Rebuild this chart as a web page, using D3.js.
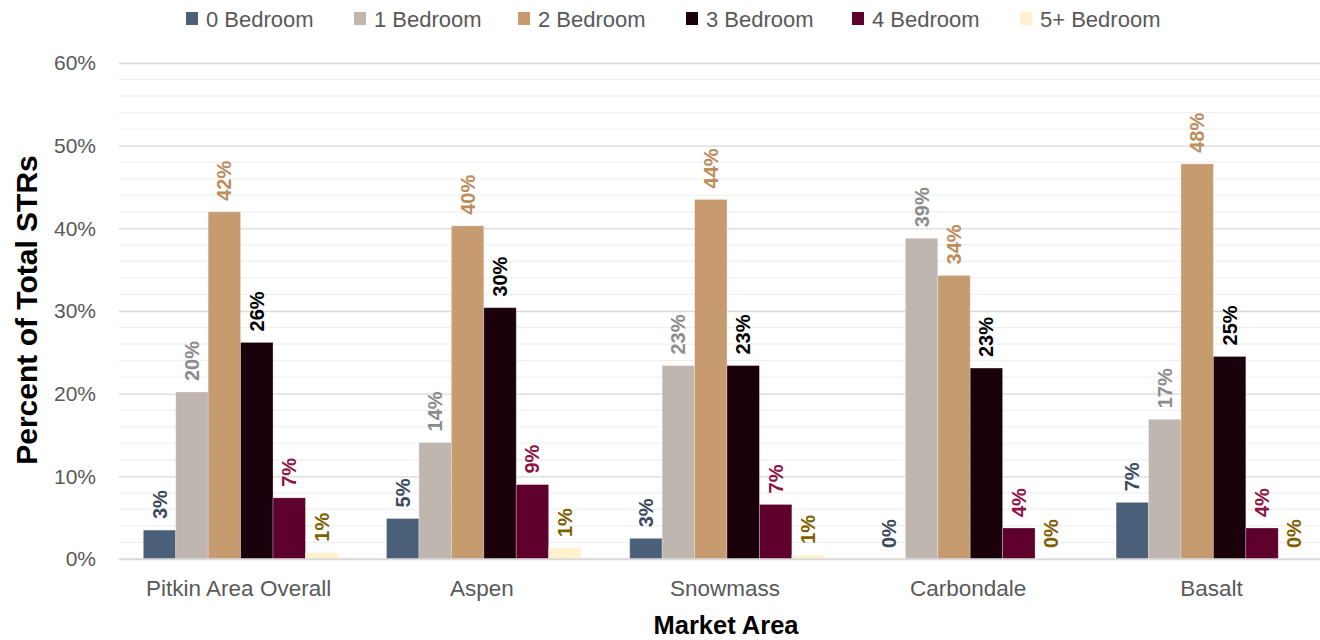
<!DOCTYPE html>
<html>
<head>
<meta charset="utf-8">
<script src="https://cdn.jsdelivr.net/npm/d3@7"></script>
<style>
html, body { margin: 0; padding: 0; background: #fff; }
svg { display: block; font-family: "Liberation Sans", Arial, sans-serif; }
</style>
</head>
<body>
<svg id="chart" width="1320" height="640"></svg>
<script>
const categories = ["Pitkin Area Overall", "Aspen", "Snowmass", "Carbondale", "Basalt"];
const seriesNames = ["0 Bedroom", "1 Bedroom", "2 Bedroom", "3 Bedroom", "4 Bedroom", "5+ Bedroom"];
const bed0 = [3.5, 4.9, 2.5, 0, 6.85];
const bed1 = [20.2, 14.1, 23.4, 38.8, 16.9];
const bed2 = [42.0, 40.3, 43.5, 34.3, 47.8];
const bed3 = [26.2, 30.4, 23.4, 23.1, 24.5];
const bed4 = [7.4, 9.0, 6.6, 3.75, 3.75];
const bed5 = [0.76, 1.33, 0.5, 0, 0];
const labels0 = ["3%", "5%", "3%", "0%", "7%"];
const labels1 = ["20%", "14%", "23%", "39%", "17%"];
const labels2 = ["42%", "40%", "44%", "34%", "48%"];
const labels3 = ["26%", "30%", "23%", "23%", "25%"];
const labels4 = ["7%", "9%", "7%", "4%", "4%"];
const labels5 = ["1%", "1%", "1%", "0%", "0%"];
const yTicks = [0, 10, 20, 30, 40, 50, 60];
const barColors = ["#4a5f78", "#bfb6af", "#c59b6f", "#1a020c", "#5e002b", "#fff2cc"];
const labelColors = ["#3c4a5d", "#8c8c8c", "#bd8d5c", "#000000", "#8e1446", "#7f6000"];

const seriesValues = [bed0, bed1, bed2, bed3, bed4, bed5];
const seriesLabels = [labels0, labels1, labels2, labels3, labels4, labels5];

const svg = d3.select("#chart");
const plotLeft = 119, plotRight = 1335, plotTop = 63, plotBottom = 559;

const y = d3.scaleLinear().domain([0, 60]).range([plotBottom, plotTop]);
const x0 = d3.scaleBand().domain(categories).range([plotLeft, plotRight]).paddingInner(0).paddingOuter(0);
const groupW = x0.bandwidth() * 0.8;
const x1 = d3.scaleBand().domain(seriesNames).range([0, groupW]).padding(0);

// minor gridlines
const minorTicks = d3.range(0, 61, 2).filter(v => v % 10 !== 0);
svg.append("g").selectAll("line").data(minorTicks).join("line")
  .attr("x1", plotLeft).attr("x2", 1320)
  .attr("y1", d => y(d)).attr("y2", d => y(d))
  .attr("stroke", "#efefef").attr("stroke-width", 1.2);

// major gridlines via axis
const yAxis = d3.axisLeft(y).tickValues(yTicks).tickFormat(d => d + "%").tickSize(-(1320 - plotLeft)).tickPadding(23);
const gy = svg.append("g").attr("transform", `translate(${plotLeft},0)`).call(yAxis);
gy.select(".domain").remove();
gy.selectAll(".tick line").attr("stroke", "#d9d9d9").attr("stroke-width", 1.3);
gy.selectAll(".tick text").attr("fill", "#595959").style("font-size", "21px").style("font-family", "'Liberation Sans', Arial, sans-serif");

// bars
const groups = svg.append("g").selectAll("g").data(categories).join("g")
  .attr("transform", c => `translate(${x0(c) + (x0.bandwidth() - groupW) / 2},0)`);

seriesNames.forEach((s, si) => {
  groups.append("rect")
    .attr("x", x1(s))
    .attr("width", x1.bandwidth())
    .attr("y", (c, ci) => y(seriesValues[si][ci]))
    .attr("height", (c, ci) => y(0) - y(seriesValues[si][ci]))
    .attr("fill", barColors[si])
    .attr("stroke", "#ffffff").attr("stroke-opacity", 0.35).attr("stroke-width", 0.8);
});

// x baseline
svg.append("line").attr("x1", plotLeft).attr("x2", 1320).attr("y1", y(0)).attr("y2", y(0))
  .attr("stroke", "#d9d9d9").attr("stroke-width", 1.5);

// value labels
seriesNames.forEach((s, si) => {
  groups.append("text")
    .attr("transform", (c, ci) => {
      const cx = x1(s) + x1.bandwidth() / 2;
      const cy = y(seriesValues[si][ci]) - 11;
      return `translate(${cx},${cy}) rotate(-90)`;
    })
    .attr("text-anchor", "start")
    .attr("dy", "0.35em")
    .attr("fill", labelColors[si])
    .style("font-size", "20px").style("font-weight", "bold")
    .text((c, ci) => seriesLabels[si][ci]);
});

// x axis labels
const xAxis = d3.axisBottom(x0).tickSize(0).tickPadding(21);
const gx = svg.append("g").attr("transform", `translate(-2,${plotBottom})`).call(xAxis);
gx.select(".domain").remove();
gx.selectAll(".tick text").attr("fill", "#595959").style("font-size", "22.5px").style("font-family", "'Liberation Sans', Arial, sans-serif");

// axis titles
svg.append("text").attr("x", 726).attr("y", 634).attr("text-anchor", "middle")
  .style("font-size", "25.5px").style("font-weight", "bold").attr("fill", "#000").text("Market Area");
svg.append("text").attr("transform", "translate(37,310) rotate(-90)").attr("text-anchor", "middle")
  .style("font-size", "30px").style("font-weight", "bold").attr("fill", "#000").text("Percent of Total STRs");

// legend
const legendX = [186, 354, 518, 686, 852, 1020];
const lg = svg.append("g").selectAll("g").data(seriesNames).join("g")
  .attr("transform", (d, i) => `translate(${legendX[i]},0)`);
lg.append("rect").attr("x", 0).attr("y", 12).attr("width", 12).attr("height", 13)
  .attr("fill", (d, i) => barColors[i]);
lg.append("text").attr("x", 20).attr("y", 26.5).attr("fill", "#595959")
  .style("font-size", "22px").text(d => d);
</script>
</body>
</html>
